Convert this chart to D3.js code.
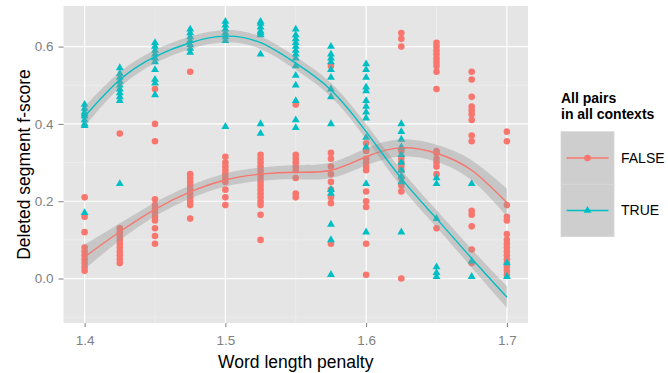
<!DOCTYPE html>
<html>
<head>
<meta charset="utf-8">
<script src="https://cdn.jsdelivr.net/npm/d3@7"></script>
<style>
  html, body { margin: 0; padding: 0; background: #fff; }
  svg { display: block; font-family: "Liberation Sans", Arial, Helvetica, sans-serif; }
</style>
</head>
<body>
<svg id="chart" width="668" height="373"></svg>
<script>
// penalty values on the x axis
const penalties = [1.4, 1.425, 1.45, 1.475, 1.5, 1.525, 1.55, 1.575, 1.6, 1.625, 1.65, 1.675, 1.7];

// f-scores per penalty, "All pairs in all contexts" = FALSE
const falseScores = [
  [0.21, 0.16, 0.12, 0.08, 0.07, 0.06, 0.05, 0.04, 0.03, 0.02],
  [0.375, 0.13, 0.12, 0.11, 0.10, 0.09, 0.08, 0.07, 0.06, 0.05, 0.04],
  [0.49, 0.40, 0.355, 0.205, 0.19, 0.18, 0.17, 0.16, 0.15, 0.13, 0.11, 0.09],
  [0.535, 0.27, 0.26, 0.25, 0.24, 0.23, 0.22, 0.21, 0.20, 0.19, 0.155],
  [0.315, 0.30, 0.29, 0.28, 0.27, 0.26, 0.25, 0.23, 0.21, 0.19],
  [0.32, 0.31, 0.30, 0.29, 0.28, 0.27, 0.26, 0.25, 0.24, 0.23, 0.22, 0.21, 0.20, 0.19, 0.165, 0.10],
  [0.45, 0.32, 0.31, 0.30, 0.29, 0.28, 0.26, 0.22, 0.21],
  [0.55, 0.325, 0.31, 0.29, 0.27, 0.25, 0.23, 0.21, 0.195, 0.09],
  [0.35, 0.33, 0.31, 0.30, 0.29, 0.28, 0.225, 0.20, 0.185, 0.09, 0.01],
  [0.635, 0.62, 0.60, 0.33, 0.31, 0.30, 0.29, 0.28, 0.26, 0.24, 0.225, 0.0],
  [0.61, 0.60, 0.59, 0.58, 0.57, 0.56, 0.55, 0.535, 0.49, 0.33, 0.325, 0.31, 0.30, 0.29, 0.27, 0.13],
  [0.535, 0.515, 0.47, 0.445, 0.435, 0.425, 0.41, 0.37, 0.355, 0.175, 0.165, 0.135, 0.075, 0.04],
  [0.38, 0.355, 0.19, 0.16, 0.15, 0.115, 0.10, 0.09, 0.08, 0.07, 0.06, 0.05, 0.04, 0.03, 0.02, 0.01]
];

// f-scores per penalty, TRUE
const trueScores = [
  [0.45, 0.44, 0.43, 0.425, 0.42, 0.41, 0.40, 0.395, 0.17],
  [0.545, 0.53, 0.52, 0.51, 0.50, 0.49, 0.48, 0.47, 0.46, 0.245],
  [0.61, 0.60, 0.59, 0.58, 0.57, 0.56, 0.54, 0.515, 0.505, 0.475],
  [0.645, 0.635, 0.625, 0.615, 0.605, 0.595, 0.585],
  [0.665, 0.655, 0.645, 0.635, 0.625, 0.615, 0.393],
  [0.665, 0.66, 0.65, 0.64, 0.635, 0.63, 0.58, 0.40, 0.375],
  [0.645, 0.63, 0.62, 0.61, 0.60, 0.59, 0.58, 0.57, 0.55, 0.525, 0.50, 0.46, 0.41, 0.39],
  [0.60, 0.58, 0.57, 0.56, 0.54, 0.52, 0.49, 0.47, 0.40, 0.23, 0.22, 0.14, 0.10, 0.01],
  [0.555, 0.54, 0.52, 0.495, 0.485, 0.46, 0.445, 0.43, 0.415, 0.365, 0.34, 0.245, 0.12],
  [0.40, 0.38, 0.36, 0.34, 0.32, 0.30, 0.28, 0.265, 0.25, 0.12],
  [0.26, 0.245, 0.155, 0.03, 0.015, 0.005],
  [0.245, 0.045, 0.005],
  [0.04, 0.005]
];

// smoothed fits and their standard-error half widths
const falseFit = [0.056, 0.121, 0.179, 0.224, 0.255, 0.27, 0.275, 0.28, 0.315, 0.338, 0.324, 0.28, 0.196];
const falseSe  = [0.032, 0.022, 0.018, 0.017, 0.017, 0.017, 0.018, 0.02, 0.022, 0.022, 0.022, 0.026, 0.036];
const trueFit  = [0.419, 0.514, 0.574, 0.61, 0.627, 0.61, 0.557, 0.488, 0.38, 0.259, 0.155, 0.052, -0.048];
const trueSe   = [0.026, 0.02, 0.017, 0.016, 0.016, 0.016, 0.017, 0.018, 0.02, 0.022, 0.022, 0.024, 0.028];

const xTicks = [1.4, 1.5, 1.6, 1.7];
const xMinor = [1.45, 1.55, 1.65];
const yTicks = [0.0, 0.2, 0.4, 0.6];
const yMinor = [-0.1, 0.1, 0.3, 0.5];

const groups = ['FALSE', 'TRUE'];
const colour = d3.scaleOrdinal().domain(groups).range(['#F8766D', '#00BFC4']);

const svg = d3.select('#chart');
const panel = { left: 63.5, right: 528, top: 6, bottom: 323 };

const x = d3.scaleLinear().domain([1.385, 1.715]).range([panel.left, panel.right]);
const y = d3.scaleLinear().domain([-0.115, 0.705]).range([panel.bottom, panel.top]);

// panel background + grid
svg.append('rect')
  .attr('x', panel.left).attr('y', panel.top)
  .attr('width', panel.right - panel.left).attr('height', panel.bottom - panel.top)
  .attr('fill', '#E5E5E5');

const grid = svg.append('g');
grid.selectAll('.vminor').data(xMinor).enter().append('line')
  .attr('x1', d => x(d)).attr('x2', d => x(d))
  .attr('y1', panel.top).attr('y2', panel.bottom)
  .attr('stroke', '#F2F2F2').attr('stroke-width', 0.6);
grid.selectAll('.hminor').data(yMinor).enter().append('line')
  .attr('y1', d => y(d)).attr('y2', d => y(d))
  .attr('x1', panel.left).attr('x2', panel.right)
  .attr('stroke', '#F2F2F2').attr('stroke-width', 0.6);
grid.selectAll('.vmajor').data(xTicks).enter().append('line')
  .attr('x1', d => x(d)).attr('x2', d => x(d))
  .attr('y1', panel.top).attr('y2', panel.bottom)
  .attr('stroke', '#fff').attr('stroke-width', 1.2);
grid.selectAll('.hmajor').data(yTicks).enter().append('line')
  .attr('y1', d => y(d)).attr('y2', d => y(d))
  .attr('x1', panel.left).attr('x2', panel.right)
  .attr('stroke', '#fff').attr('stroke-width', 1.2);

// points
const flatten = (scores, group) => scores.flatMap((vals, i) =>
  vals.map(v => ({ x: penalties[i], y: v, group })));
const falsePts = flatten(falseScores, 'FALSE');
const truePts = flatten(trueScores, 'TRUE');

svg.append('g').selectAll('circle').data(falsePts).enter().append('circle')
  .attr('cx', d => x(d.x)).attr('cy', d => y(d.y)).attr('r', 3.3)
  .attr('fill', colour('FALSE'));

const tri = d3.symbol().type(d3.symbolTriangle).size(27);
svg.append('g').selectAll('path').data(truePts).enter().append('path')
  .attr('d', tri)
  .attr('transform', d => `translate(${x(d.x)},${y(d.y)})`)
  .attr('fill', colour('TRUE'));

// smooth ribbons + lines
const fits = [
  { group: 'FALSE', fit: falseFit, se: falseSe },
  { group: 'TRUE', fit: trueFit, se: trueSe }
];
const area = d3.area()
  .x((d, i) => x(penalties[i]))
  .y0(d => y(d[0] - d[1]))
  .y1(d => y(d[0] + d[1]))
  .curve(d3.curveNatural);
const line = d3.line()
  .x((d, i) => x(penalties[i]))
  .y(d => y(d))
  .curve(d3.curveNatural);

const smooth = svg.append('g');
fits.forEach(f => {
  smooth.append('path')
    .attr('d', area(f.fit.map((v, i) => [v, f.se[i]])))
    .attr('fill', '#999').attr('fill-opacity', 0.4);
  smooth.append('path')
    .attr('d', line(f.fit))
    .attr('fill', 'none')
    .attr('stroke', colour(f.group))
    .attr('stroke-width', 1.4);
});

// axes
const xAxis = svg.append('g')
  .attr('transform', `translate(0,${panel.bottom})`)
  .call(d3.axisBottom(x).tickValues(xTicks).tickSize(4).tickPadding(8).tickFormat(d3.format('.1f')));
const yAxis = svg.append('g')
  .attr('transform', `translate(${panel.left},0)`)
  .call(d3.axisLeft(y).tickValues(yTicks).tickSize(5).tickPadding(5).tickFormat(d3.format('.1f')));
[xAxis, yAxis].forEach(a => {
  a.select('.domain').remove();
  a.selectAll('.tick line').attr('stroke', '#7F7F7F');
  a.selectAll('.tick text')
    .attr('fill', '#7F7F7F')
    .attr('font-size', 13.5)
    .attr('font-family', '"Liberation Sans", Arial, sans-serif');
});

svg.append('text')
  .attr('x', (panel.left + panel.right) / 2).attr('y', 368)
  .attr('text-anchor', 'middle')
  .attr('font-size', 17.5)
  .attr('fill', '#000')
  .text('Word length penalty');

svg.append('text')
  .attr('transform', `translate(30,${(panel.top + panel.bottom) / 2}) rotate(-90)`)
  .attr('text-anchor', 'middle')
  .attr('font-size', 17.5)
  .attr('fill', '#000')
  .text('Deleted segment f-score');

// legend
const legend = svg.append('g').attr('transform', 'translate(561,0)');
legend.append('text')
  .attr('y', 103).attr('font-size', 14).attr('font-weight', 'bold')
  .text('All pairs');
legend.append('text')
  .attr('y', 119).attr('font-size', 14).attr('font-weight', 'bold')
  .text('in all contexts');

const keyTop = 131.7, keyH = 52.5, keyW = 53;
groups.forEach((g, i) => {
  const ky = keyTop + i * keyH;
  legend.append('rect')
    .attr('x', 0).attr('y', ky).attr('width', keyW).attr('height', keyH)
    .attr('fill', '#CECECE').attr('stroke', '#D8D8D8').attr('stroke-width', 0.8);
  const cy = ky + keyH / 2;
  legend.append('line')
    .attr('x1', 5.5).attr('x2', 47.5).attr('y1', cy).attr('y2', cy)
    .attr('stroke', colour(g)).attr('stroke-width', 1.4);
  if (g === 'FALSE') {
    legend.append('circle').attr('cx', keyW / 2).attr('cy', cy).attr('r', 3.3).attr('fill', colour(g));
  } else {
    legend.append('path').attr('d', tri).attr('transform', `translate(${keyW / 2},${cy})`).attr('fill', colour(g));
  }
  legend.append('text')
    .attr('x', 60).attr('y', cy + 5)
    .attr('font-size', 14)
    .text(g);
});
</script>
</body>
</html>
